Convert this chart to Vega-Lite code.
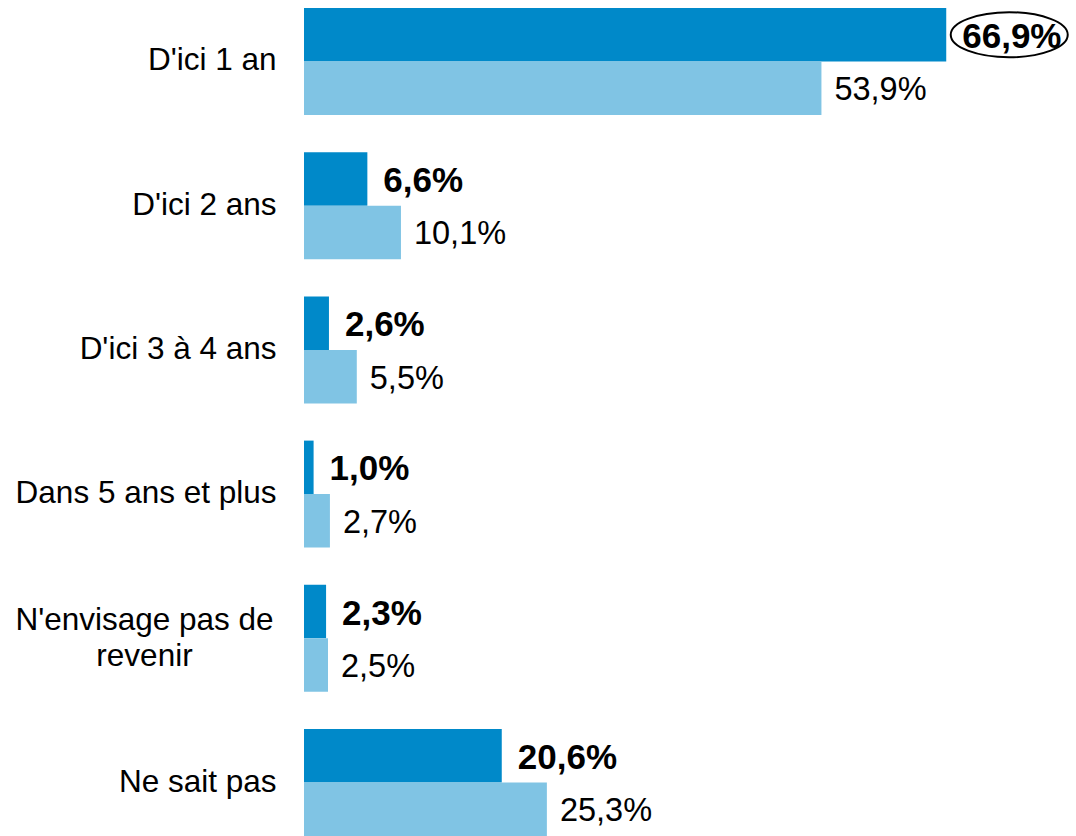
{
  "$schema": "https://vega.github.io/schema/vega-lite/v6.json",
  "width": 720,
  "height": 828,
  "autosize": "none",
  "padding": {"left": 304, "top": 8, "right": 52, "bottom": 0},
  "background": "white",
  "config": {"view": {"stroke": null}, "font": "Liberation Sans"},
  "data": {
    "values": [
      {"cat": "D'ici 1 an", "serie": "Série 1", "value": 66.9, "label": "66,9%"},
      {"cat": "D'ici 1 an", "serie": "Série 2", "value": 53.9, "label": "53,9%"},
      {"cat": "D'ici 2 ans", "serie": "Série 1", "value": 6.6, "label": "6,6%"},
      {"cat": "D'ici 2 ans", "serie": "Série 2", "value": 10.1, "label": "10,1%"},
      {"cat": "D'ici 3 à 4 ans", "serie": "Série 1", "value": 2.6, "label": "2,6%"},
      {"cat": "D'ici 3 à 4 ans", "serie": "Série 2", "value": 5.5, "label": "5,5%"},
      {"cat": "Dans 5 ans et plus", "serie": "Série 1", "value": 1.0, "label": "1,0%"},
      {"cat": "Dans 5 ans et plus", "serie": "Série 2", "value": 2.7, "label": "2,7%"},
      {"cat": "N'envisage pas de|revenir", "serie": "Série 1", "value": 2.3, "label": "2,3%"},
      {"cat": "N'envisage pas de|revenir", "serie": "Série 2", "value": 2.5, "label": "2,5%"},
      {"cat": "Ne sait pas", "serie": "Série 1", "value": 20.6, "label": "20,6%"},
      {"cat": "Ne sait pas", "serie": "Série 2", "value": 25.3, "label": "25,3%"}
    ]
  },
  "encoding": {
    "y": {
      "field": "cat",
      "type": "nominal",
      "sort": null,
      "scale": {"paddingInner": 0.258, "paddingOuter": 0},
      "axis": {
        "title": null,
        "ticks": false,
        "domain": false,
        "labelFontSize": 31.5,
        "labelColor": "#000000",
        "labelPadding": {"condition": {"test": "indexof(datum.label, '|') >= 0", "value": 160}, "value": 28},
        "labelAlign": {"condition": {"test": "indexof(datum.label, '|') >= 0", "value": "center"}, "value": "right"},
        "labelOffset": {"condition": {"test": "indexof(datum.label, '|') >= 0", "value": -17}, "value": 0},
        "labelBaseline": "middle",
        "labelLineHeight": 36,
        "labelLimit": 400,
        "labelExpr": "split(datum.label, '|')"
      }
    },
    "yOffset": {"field": "serie", "type": "nominal", "sort": ["Série 1", "Série 2"], "scale": {"paddingInner": 0, "paddingOuter": 0}},
    "x": {"field": "value", "type": "quantitative", "scale": {"domain": [0, 75]}, "axis": null}
  },
  "layer": [
    {
      "mark": {"type": "bar"},
      "encoding": {
        "color": {
          "field": "serie",
          "type": "nominal",
          "scale": {"domain": ["Série 1", "Série 2"], "range": ["#0089C9", "#80C4E4"]},
          "legend": null
        }
      }
    },
    {
      "transform": [{"filter": "datum.serie === 'Série 1'"}],
      "mark": {"type": "text", "align": "left", "baseline": "middle", "dx": 16, "dy": 2, "fontSize": 35, "fontWeight": "bold", "color": "#000000"},
      "encoding": {"text": {"field": "label"}}
    },
    {
      "transform": [{"filter": "datum.serie === 'Série 2'"}],
      "mark": {"type": "text", "align": "left", "baseline": "middle", "dx": 13, "dy": 2, "fontSize": 32.5, "color": "#000000"},
      "encoding": {"text": {"field": "label"}}
    },
    {
      "transform": [{"filter": "datum.serie === 'Série 1' && datum.value > 60"}],
      "mark": {
        "type": "point",
        "shape": "M-1,0 A1,0.385 0 1,1 1,0 A1,0.385 0 1,1 -1,0 Z",
        "size": 13689,
        "filled": false,
        "stroke": "#000000",
        "strokeWidth": 2,
        "opacity": 1,
        "xOffset": 63
      },
      "encoding": {}
    }
  ]
}
